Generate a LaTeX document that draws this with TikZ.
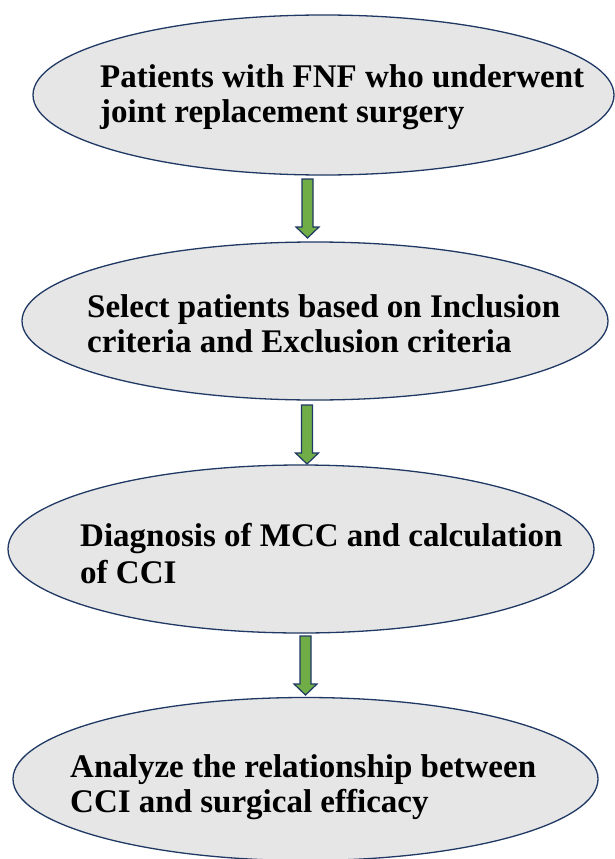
\documentclass[tikz,border=0pt]{standalone}
\usepackage{fontspec}
\setmainfont{Liberation Serif}
\usetikzlibrary{shapes.geometric}
\definecolor{efill}{HTML}{E7E6E6}
\definecolor{eline}{HTML}{1F3864}
\definecolor{agreen}{HTML}{70AD47}
\begin{document}
\begin{tikzpicture}[x=1pt,y=-1pt,
  ell/.style={ellipse, draw=eline, line width=1.3pt, fill=efill, inner sep=0pt},
  lbl/.style={anchor=base west, inner sep=0pt, align=left,
    font=\fontsize{33}{35}\selectfont\bfseries},
  barrow/.pic={\draw[draw=eline, line width=1.2pt, fill=agreen, line join=miter]
     (-5.5,0) -- (5.5,0) -- (5.5,48) -- (11.5,48) -- (0,59) -- (-11.5,48) -- (-5.5,48) -- cycle;}]
\useasboundingbox (0,0) rectangle (615,859);
\node[ell, minimum width=581pt, minimum height=160pt] (e1) at (323.5,95) {};
\node[ell, minimum width=586pt, minimum height=158pt] (e2) at (315,321) {};
\node[ell, minimum width=586pt, minimum height=168pt] (e3) at (301,549) {};
\node[ell, minimum width=585pt, minimum height=163pt] (e4) at (305.5,779) {};
% base anchor of a two-line node is the baseline of its last line
\node[lbl] (t1) at (100,122) {Patients with FNF who underwent\\joint replacement surgery};
\node[lbl] (t2) at (87,352) {Select patients based on Inclusion\\criteria and Exclusion criteria};
\node[lbl, font=\fontsize{33}{37}\selectfont\bfseries] (t3) at (80,583) {Diagnosis of MCC and calculation\\of CCI};
\node[lbl] (t4) at (70,812) {Analyze the relationship between\\CCI and surgical efficacy};
\pic (a1) at (307.5,179) {barrow};
\pic (a2) at (307,405) {barrow};
\pic (a3) at (305.5,636) {barrow};
\end{tikzpicture}
\end{document}
